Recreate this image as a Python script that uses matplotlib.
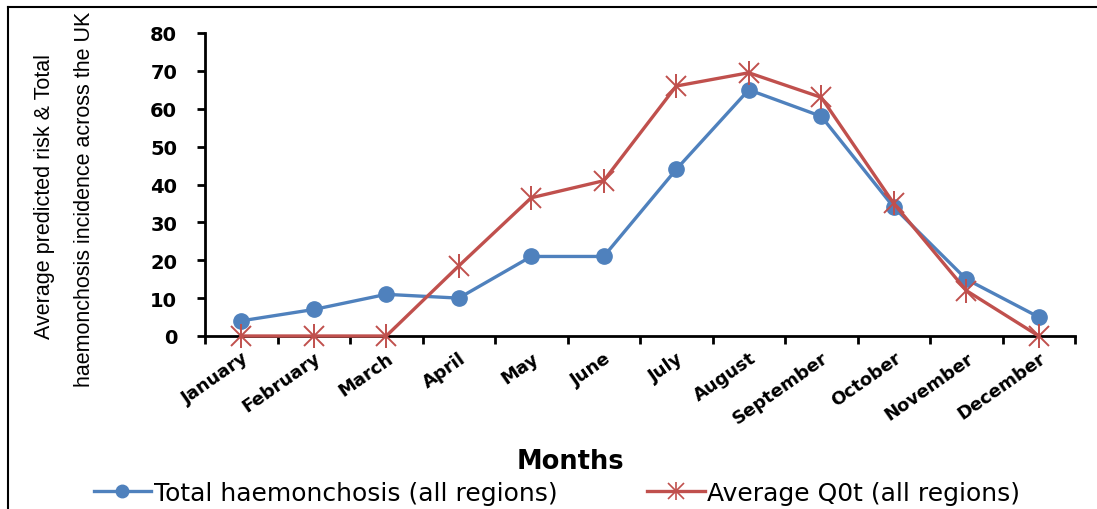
import matplotlib
matplotlib.use("Agg")
import matplotlib.pyplot as plt
from matplotlib.lines import Line2D
from matplotlib.legend_handler import HandlerTuple
import numpy as np

months = ["January", "February", "March", "April", "May", "June", "July",
          "August", "September", "October", "November", "December"]
total_haemonchosis = [4, 7, 11, 10, 21, 21, 44, 65, 58, 34, 15, 5]
average_q0t = [0, 0, 0, 18.5, 36.5, 41, 66, 69.5, 63, 35, 12, 0]
y_ticks = [0, 10, 20, 30, 40, 50, 60, 70, 80]

BLUE = "#4F81BD"
RED = "#C0504D"

W, H = 1097, 510
fig = plt.figure(figsize=(W / 100, H / 100), dpi=100)
ax = fig.add_axes([205 / W, 1 - 337 / H, (1075 - 205) / W, (337 - 34) / H])

x = np.arange(len(months)) + 0.5
ax.plot(x, total_haemonchosis, color=BLUE, lw=2.4, marker="o", ms=11,
        mfc=BLUE, mec=BLUE, zorder=3, clip_on=False)
ax.plot(x, average_q0t, color=RED, lw=2.4, zorder=4, clip_on=False)
ax.plot(x, average_q0t, ls="none", marker="x", ms=14, mew=1.4, color=RED,
        zorder=5, clip_on=False)
ax.plot(x, average_q0t, ls="none", marker="|", ms=17, mew=1.4, color=RED,
        zorder=5, clip_on=False)

ax.set_xlim(0, len(months))
ax.set_ylim(0, 80)
ax.set_yticks(y_ticks)
ax.set_yticklabels([str(v) for v in y_ticks], fontsize=14, fontweight="bold")
ax.set_xticks(np.arange(len(months) + 1))
ax.set_xticklabels([])
ax.set_xticks(x, minor=True)
ax.set_xticklabels(months, minor=True, rotation=35, ha="right",
                   rotation_mode="anchor", fontsize=13, fontweight="bold")
ax.tick_params(axis="x", which="minor", length=0, pad=9)
ax.tick_params(axis="x", which="major", length=6, width=2, direction="out")
ax.tick_params(axis="y", length=6, width=2, direction="out", pad=14)

for s in ["top", "right"]:
    ax.spines[s].set_visible(False)
for s in ["left", "bottom"]:
    ax.spines[s].set_linewidth(2)
    ax.spines[s].set_color("black")

fig.text(570 / W, 1 - 462 / H, "Months", fontsize=18.5, fontweight="bold",
         ha="center", va="center")
fig.text(45 / W, 1 - 197 / H, "Average predicted risk & Total", rotation=90,
         fontsize=15.5, ha="center", va="center",
         family=["Liberation Sans", "DejaVu Sans"])
fig.text(85 / W, 1 - 199 / H, "haemonchosis incidence across the UK", rotation=90,
         fontsize=15.5, ha="center", va="center",
         family=["Liberation Sans", "DejaVu Sans"])

h1 = Line2D([], [], color=BLUE, lw=2.4, marker="o", ms=9, mfc=BLUE, mec=BLUE)
h2a = Line2D([], [], color=RED, lw=2.4)
h2b = Line2D([], [], ls="none", marker="x", ms=11, mew=1.2, color=RED)
h2c = Line2D([], [], ls="none", marker="|", ms=13, mew=1.2, color=RED)
leg = fig.legend([h1, (h2a, h2b, h2c)],
                 ["Total haemonchosis (all regions)", "Average Q0t (all regions)"],
                 handler_map={tuple: HandlerTuple(ndivide=1, pad=0)},
                 loc="center", bbox_to_anchor=(557 / W, 1 - 494 / H), ncol=2,
                 frameon=False, fontsize=18, handlelength=2.3, columnspacing=3.6,
                 handletextpad=0.1)

# outer frame
fig.add_artist(Line2D([8 / W, 8 / W], [0, 1 - 8 / H], color="black", lw=1.5,
                      transform=fig.transFigure))
fig.add_artist(Line2D([8 / W, 1], [1 - 8 / H, 1 - 8 / H], color="black", lw=1.5,
                      transform=fig.transFigure))

fig.savefig("out.png", dpi=100)
